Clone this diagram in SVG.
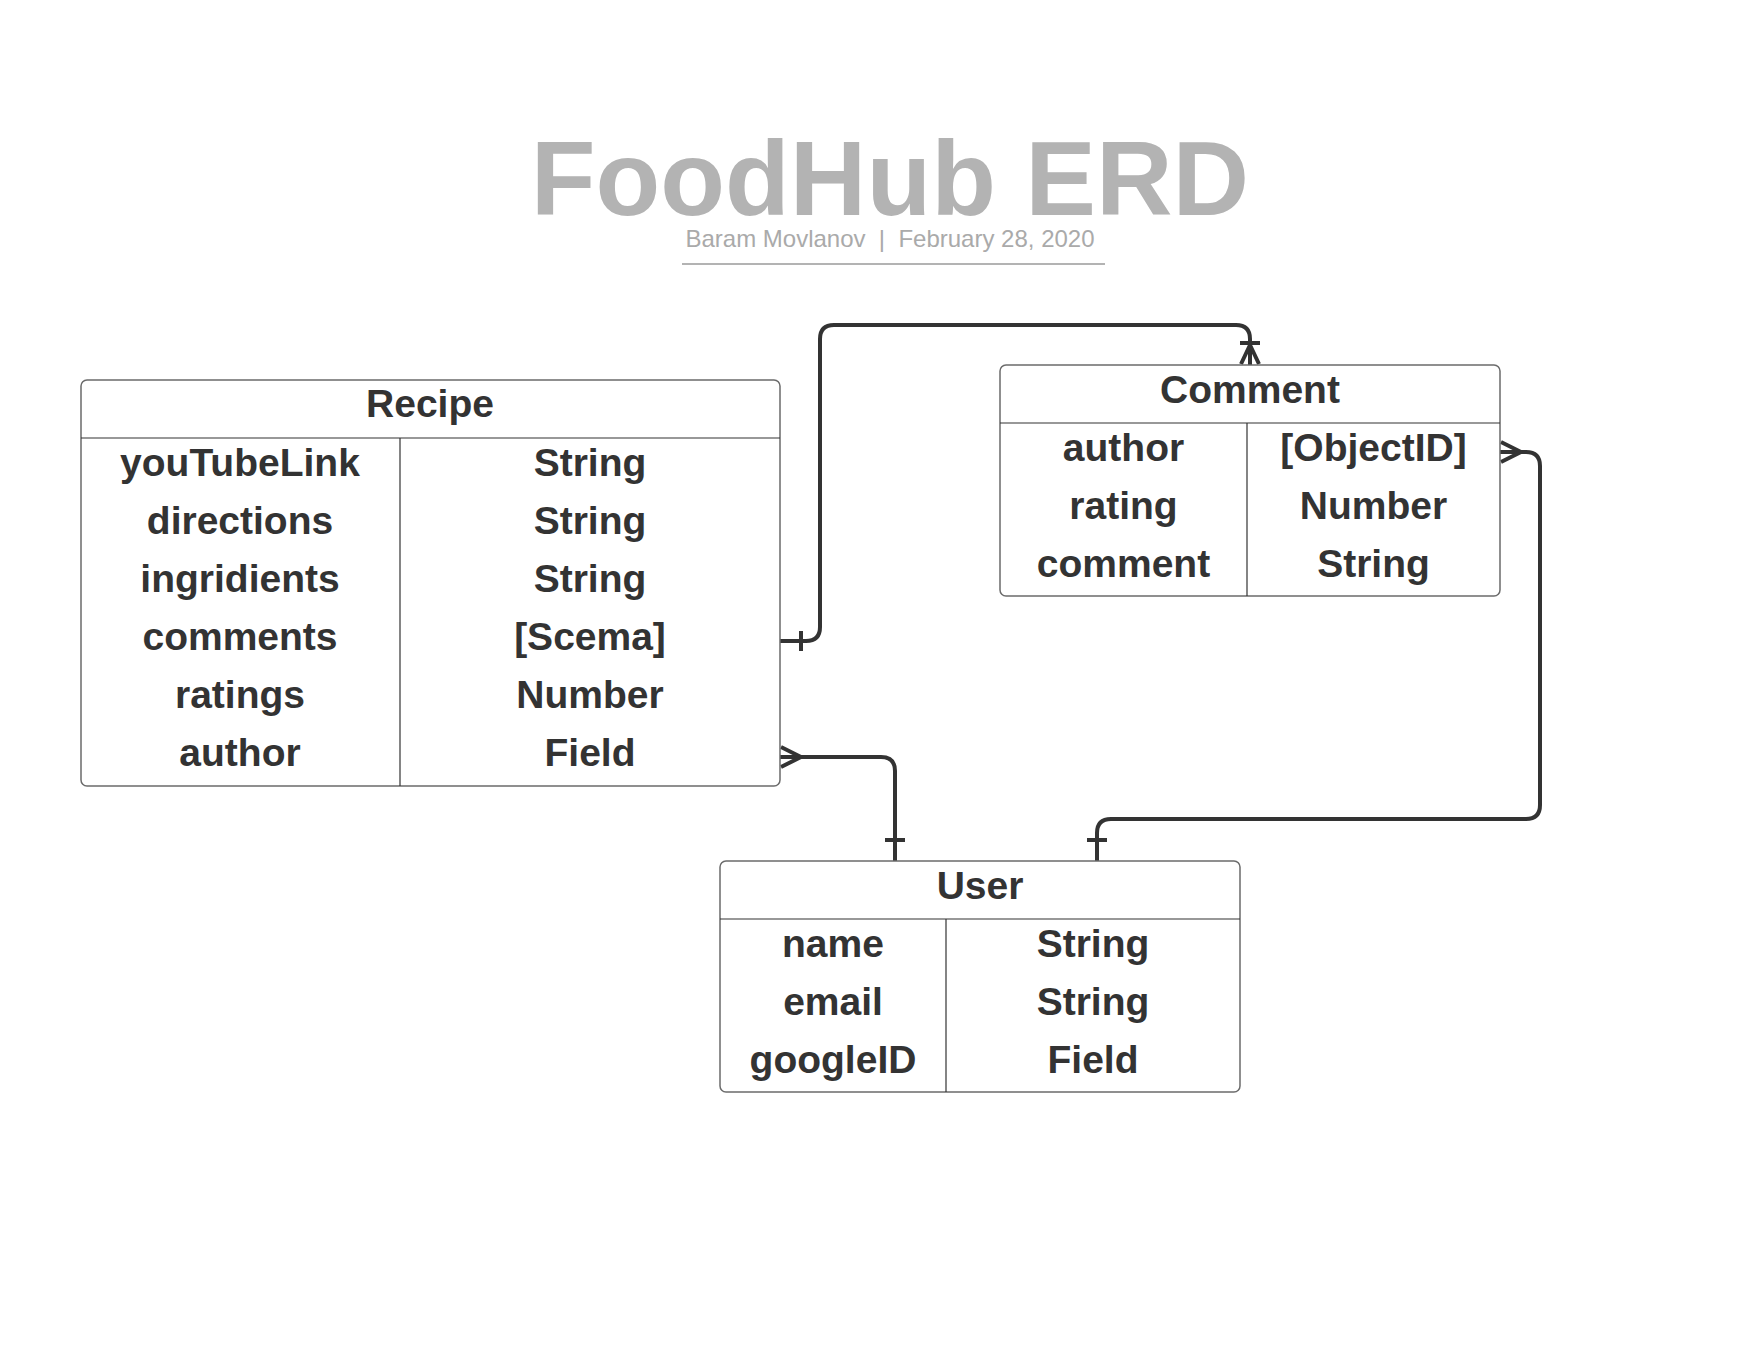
<svg xmlns="http://www.w3.org/2000/svg" width="1760" height="1360" viewBox="0 0 1760 1360">
<style>
.box{fill:#ffffff;stroke:#6b6b6b;stroke-width:1.5}
.div{stroke:#333333;stroke-width:1.2;fill:none}
.t{font-family:"Liberation Sans",Arial,sans-serif;font-weight:bold;font-size:39px;fill:#333333;text-anchor:middle}
.conn{fill:none;stroke:#333333;stroke-width:4;stroke-linejoin:round}
</style>
<rect width="1760" height="1360" fill="#ffffff"/>
<g id="title">
<text x="890" y="215" font-family="Liberation Sans, Arial, sans-serif" font-weight="bold" font-size="106" fill="#b3b3b3" text-anchor="middle">FoodHub ERD</text>
<text x="890" y="247" xml:space="preserve" font-family="Liberation Sans, Arial, sans-serif" font-size="24" fill="#aaaaaa" text-anchor="middle">Baram Movlanov  |  February 28, 2020</text>
<line x1="682" y1="264" x2="1105" y2="264" stroke="#b3b3b3" stroke-width="2"/>
</g>
<g id="connectors">
<path class="conn" d="M780 641 H806 Q820 641 820 627 V339 Q820 325 834 325 H1236 Q1250 325 1250 339 V365"/>
<line class="conn" x1="801" y1="631" x2="801" y2="651"/>
<line class="conn" x1="1240" y1="343" x2="1260" y2="343"/>
<polyline class="conn" points="1241,364 1250,345 1259,364"/>
<path class="conn" d="M780 757 H881 Q895 757 895 771 V861"/>
<polyline class="conn" points="781,747 801,757 781,767"/>
<line class="conn" x1="885" y1="840" x2="905" y2="840"/>
<path class="conn" d="M1500 452 H1526 Q1540 452 1540 466 V805 Q1540 819 1526 819 H1111 Q1097 819 1097 833 V861"/>
<polyline class="conn" points="1501,442 1521,452 1501,462"/>
<line class="conn" x1="1087" y1="840" x2="1107" y2="840"/>
</g>
<g id="recipe">
<rect class="box" x="81" y="380" width="699" height="406" rx="6"/>
<line class="div" x1="81" y1="438" x2="780" y2="438"/>
<line class="div" x1="400" y1="438" x2="400" y2="786"/>
<text class="t" x="430" y="417">Recipe</text>
<text class="t" x="240" y="475.5">youTubeLink</text>
<text class="t" x="240" y="533.5">directions</text>
<text class="t" x="240" y="591.5">ingridients</text>
<text class="t" x="240" y="649.5">comments</text>
<text class="t" x="240" y="707.5">ratings</text>
<text class="t" x="240" y="765.5">author</text>
<text class="t" x="590" y="475.5">String</text>
<text class="t" x="590" y="533.5">String</text>
<text class="t" x="590" y="591.5">String</text>
<text class="t" x="590" y="649.5">[Scema]</text>
<text class="t" x="590" y="707.5">Number</text>
<text class="t" x="590" y="765.5">Field</text>
</g>
<g id="comment">
<rect class="box" x="1000" y="365" width="500" height="231" rx="6"/>
<line class="div" x1="1000" y1="423" x2="1500" y2="423"/>
<line class="div" x1="1247" y1="423" x2="1247" y2="596"/>
<text class="t" x="1250" y="402.5">Comment</text>
<text class="t" x="1123.5" y="460.5">author</text>
<text class="t" x="1123.5" y="518.5">rating</text>
<text class="t" x="1123.5" y="576.5">comment</text>
<text class="t" x="1373.5" y="460.5">[ObjectID]</text>
<text class="t" x="1373.5" y="518.5">Number</text>
<text class="t" x="1373.5" y="576.5">String</text>
</g>
<g id="user">
<rect class="box" x="720" y="861" width="520" height="231" rx="6"/>
<line class="div" x1="720" y1="919" x2="1240" y2="919"/>
<line class="div" x1="946" y1="919" x2="946" y2="1092"/>
<text class="t" x="980" y="898.5">User</text>
<text class="t" x="833" y="956.5">name</text>
<text class="t" x="833" y="1014.5">email</text>
<text class="t" x="833" y="1072.5">googleID</text>
<text class="t" x="1093" y="956.5">String</text>
<text class="t" x="1093" y="1014.5">String</text>
<text class="t" x="1093" y="1072.5">Field</text>
</g>
</svg>
